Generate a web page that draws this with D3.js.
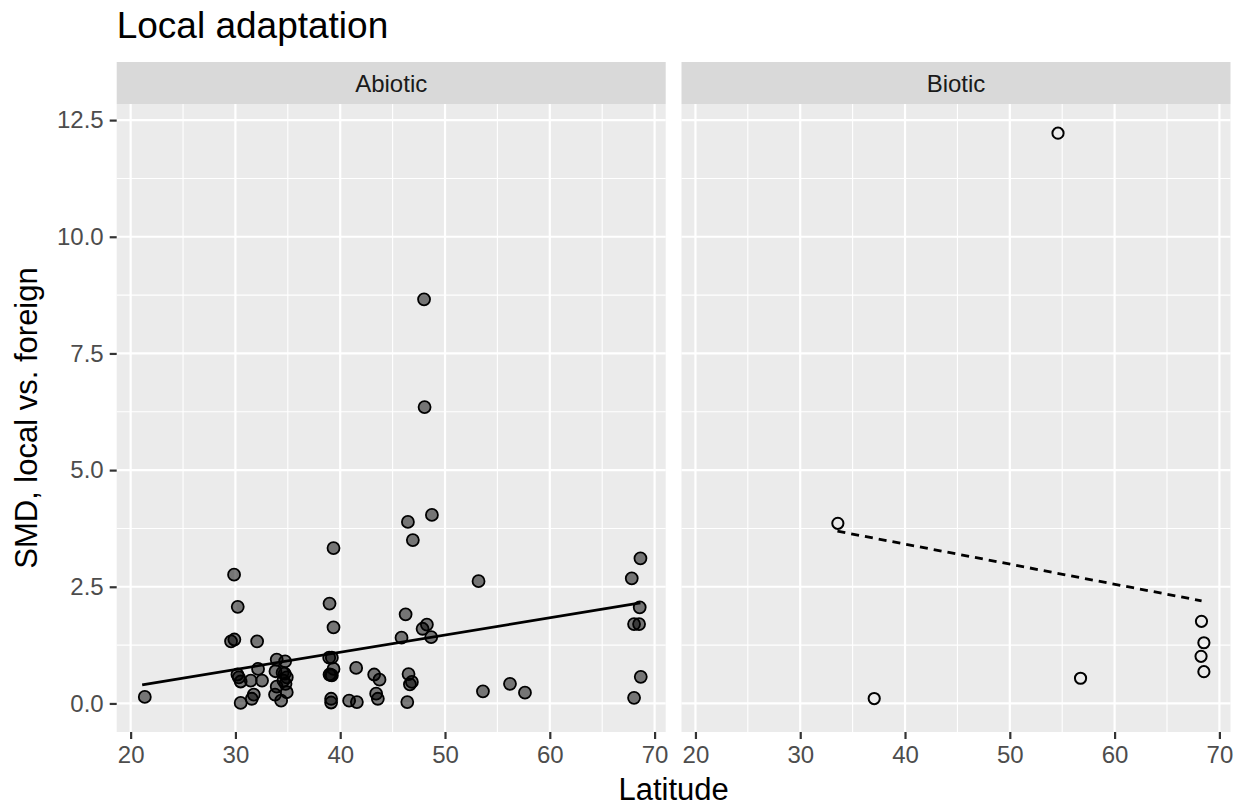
<!DOCTYPE html>
<html>
<head>
<meta charset="utf-8">
<script src="https://cdn.jsdelivr.net/npm/d3@7"></script>
<style>
  body { margin: 0; background: #fff; }
  svg { display: block; font-family: "Liberation Sans", Arial, Helvetica, sans-serif; }
</style>
</head>
<body>
<div id="chart"></div>
<script>
// values
const panels = ["Abiotic", "Biotic"];

const abioticLat = [21.35, 29.87, 30.22, 29.58, 29.9, 32.07, 33.94, 34.74, 32.16, 30.19,
  30.32, 30.5, 31.46, 32.54, 33.82, 34.5, 34.7, 34.9, 34.58, 34.78,
  33.94, 33.78, 34.9, 34.36, 31.75, 31.56, 30.5, 39.36, 38.98, 39.36,
  38.95, 39.2, 39.36, 38.98, 39.2, 39.1, 39.13, 39.13, 41.52, 40.85,
  41.59, 43.24, 43.75, 43.43, 43.59, 46.46, 48.75, 46.93, 53.2, 46.24,
  48.27, 47.86, 45.85, 48.68, 46.52, 46.65, 46.84, 46.4, 53.62, 56.2,
  57.63, 68.65, 67.82, 68.58, 68.04, 68.52, 68.68, 68.04, 48.0, 48.05];
const abioticSmd = [0.14, 2.76, 2.07, 1.33, 1.37, 1.33, 0.94, 0.90, 0.74, 0.62,
  0.56, 0.47, 0.49, 0.49, 0.69, 0.66, 0.64, 0.56, 0.49, 0.42,
  0.36, 0.19, 0.24, 0.06, 0.19, 0.10, 0.01, 3.33, 2.14, 1.63,
  0.98, 0.98, 0.74, 0.62, 0.60, 0.61, 0.10, 0.02, 0.76, 0.06,
  0.03, 0.62, 0.51, 0.21, 0.10, 3.89, 4.04, 3.50, 2.62, 1.91,
  1.69, 1.60, 1.41, 1.42, 0.63, 0.41, 0.46, 0.03, 0.26, 0.42,
  0.23, 3.11, 2.68, 2.06, 1.70, 1.70, 0.57, 0.12, 8.66, 6.35];

const bioticLat = [54.6, 33.59, 37.06, 56.75, 68.29, 68.52, 68.25, 68.52];
const bioticSmd = [12.22, 3.86, 0.105, 0.54, 1.76, 1.30, 1.01, 0.68];

// fitted lines (end points)
const abioticFitLat = [21.1, 68.65];
const abioticFitSmd = [0.40, 2.155];
const bioticFitLat = [33.55, 68.3];
const bioticFitSmd = [3.69, 2.20];

const xTicks = [20, 30, 40, 50, 60, 70];
const xMinor = [25, 35, 45, 55, 65];
const yTicks = [0, 2.5, 5, 7.5, 10, 12.5];
const yMinor = [1.25, 3.75, 6.25, 8.75, 11.25];

const title = "Local adaptation";
const xTitle = "Latitude";
const yTitle = "SMD, local vs. foreign";

const W = 1242, H = 811;
const panelW = 549, panelTop = 104, panelBottom = 732, stripTop = 62;
const panelLeft = [116.7, 681.5];

const svg = d3.select("#chart").append("svg")
  .attr("width", W)
  .attr("height", H);

const x = d3.scaleLinear().domain([18.67, 71.06]).range([0, panelW]);
const y = d3.scaleLinear().domain([-0.612, 12.845]).range([panelBottom - panelTop, 0]);
const ph = panelBottom - panelTop;

const series = [
  { pts: d3.zip(abioticLat, abioticSmd), fit: d3.zip(abioticFitLat, abioticFitSmd), filled: true, dash: null },
  { pts: d3.zip(bioticLat, bioticSmd), fit: d3.zip(bioticFitLat, bioticFitSmd), filled: false, dash: "8,6" }
];

panels.forEach((name, i) => {
  const g = svg.append("g").attr("transform", `translate(${panelLeft[i]},${panelTop})`);

  // strip
  svg.append("rect")
    .attr("x", panelLeft[i]).attr("y", stripTop)
    .attr("width", panelW).attr("height", panelTop - stripTop)
    .attr("fill", "#D9D9D9");
  svg.append("text")
    .attr("x", panelLeft[i] + panelW / 2)
    .attr("y", (stripTop + panelTop) / 2)
    .attr("dy", "0.36em")
    .attr("text-anchor", "middle")
    .attr("font-size", 24)
    .attr("fill", "#1A1A1A")
    .text(name);

  g.append("rect").attr("width", panelW).attr("height", ph).attr("fill", "#EBEBEB");

  // grid
  g.selectAll(".ymin").data(yMinor).join("line")
    .attr("x1", 0).attr("x2", panelW)
    .attr("y1", d => y(d)).attr("y2", d => y(d))
    .attr("stroke", "#fff").attr("stroke-width", 1.1);
  g.selectAll(".xmin").data(xMinor).join("line")
    .attr("y1", 0).attr("y2", ph)
    .attr("x1", d => x(d)).attr("x2", d => x(d))
    .attr("stroke", "#fff").attr("stroke-width", 1.1);
  g.selectAll(".ymaj").data(yTicks).join("line")
    .attr("x1", 0).attr("x2", panelW)
    .attr("y1", d => y(d)).attr("y2", d => y(d))
    .attr("stroke", "#fff").attr("stroke-width", 2.2);
  g.selectAll(".xmaj").data(xTicks).join("line")
    .attr("y1", 0).attr("y2", ph)
    .attr("x1", d => x(d)).attr("x2", d => x(d))
    .attr("stroke", "#fff").attr("stroke-width", 2.2);

  // x axis
  const xAxis = g.append("g")
    .attr("transform", `translate(0,${ph})`)
    .call(d3.axisBottom(x).tickValues(xTicks).tickSize(7).tickPadding(7).tickFormat(d3.format("d")));
  xAxis.select(".domain").remove();
  xAxis.selectAll(".tick line").attr("stroke", "#333333").attr("stroke-width", 2.2);
  xAxis.selectAll(".tick text").attr("fill", "#4D4D4D").attr("font-size", 24)
    .attr("font-family", "Liberation Sans, Arial, sans-serif");

  if (i === 0) {
    const yAxis = g.append("g")
      .call(d3.axisLeft(y).tickValues(yTicks).tickSize(7).tickPadding(6).tickFormat(d3.format(".1f")));
    yAxis.select(".domain").remove();
    yAxis.selectAll(".tick line").attr("stroke", "#333333").attr("stroke-width", 2.2);
    yAxis.selectAll(".tick text").attr("fill", "#4D4D4D").attr("font-size", 24)
      .attr("font-family", "Liberation Sans, Arial, sans-serif");
  }

  const s = series[i];
  const line = d3.line().x(d => x(d[0])).y(d => y(d[1]));

  if (s.filled) {
    g.selectAll(".pt").data(s.pts).join("circle")
      .attr("cx", d => x(d[0])).attr("cy", d => y(d[1]))
      .attr("r", 6)
      .attr("fill", "rgba(0,0,0,0.5)")
      .attr("stroke", "#000").attr("stroke-width", 1.8);
    g.append("path").attr("d", line(s.fit))
      .attr("fill", "none").attr("stroke", "#000").attr("stroke-width", 2.8);
  } else {
    g.append("path").attr("d", line(s.fit))
      .attr("fill", "none").attr("stroke", "#000").attr("stroke-width", 2.8)
      .attr("stroke-dasharray", s.dash);
    g.selectAll(".pt").data(s.pts).join("circle")
      .attr("cx", d => x(d[0])).attr("cy", d => y(d[1]))
      .attr("r", 5.6)
      .attr("fill", "none")
      .attr("stroke", "#000").attr("stroke-width", 2);
  }
});

// titles
svg.append("text")
  .attr("x", 116.7).attr("y", 38)
  .attr("font-size", 37)
  .attr("fill", "#000")
  .text(title);

svg.append("text")
  .attr("x", (panelLeft[0] + panelLeft[1] + panelW) / 2)
  .attr("y", 800)
  .attr("text-anchor", "middle")
  .attr("font-size", 31)
  .attr("fill", "#000")
  .text(xTitle);

svg.append("text")
  .attr("transform", `translate(37,${(panelTop + panelBottom) / 2}) rotate(-90)`)
  .attr("text-anchor", "middle")
  .attr("font-size", 31)
  .attr("fill", "#000")
  .text(yTitle);
</script>
</body>
</html>
